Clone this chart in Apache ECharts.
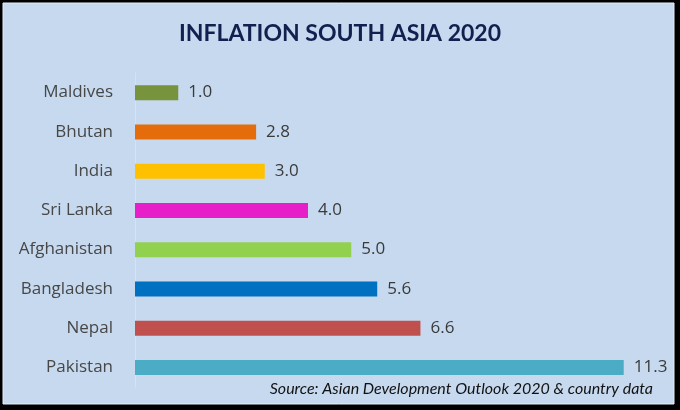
<!DOCTYPE html>
<html>
<head>
<meta charset="utf-8">
<script src="https://cdn.jsdelivr.net/npm/echarts@6/dist/echarts.min.js"></script>
<style>
html,body{margin:0;padding:0;background:#000;}
#c{position:absolute;left:0;top:0;width:680px;height:410px;}
</style>
</head>
<body>
<div id="c"></div>
<script>
const countries = ['Maldives','Bhutan','India','Sri Lanka','Afghanistan','Bangladesh','Nepal','Pakistan'];
const inflation = [1.0, 2.8, 3.0, 4.0, 5.0, 5.6, 6.6, 11.3];
const barColors = ['#77933c','#e46c0a','#ffc000','#e61fc9','#92d050','#0070c0','#c0504d','#4bacc6'];
const titleText = 'INFLATION SOUTH ASIA 2020';
const sourceText = 'Source: Asian Development Outlook 2020 & country data';

const chart = echarts.init(document.getElementById('c'), null, {renderer:'canvas'});
chart.setOption({
  backgroundColor: '#000',
  animation: false,
  graphic: [
    {type:'rect', shape:{x:3,y:3,width:671,height:401}, style:{fill:'#c6d9ef', stroke:'#e6eef8', lineWidth:1}, z:-10},
    {type:'text', left:'center', top:22, style:{text:titleText, font:'bold 23px Lato', fill:'#13204f'}},
    {type:'text', right:27, top:381, style:{text:sourceText, font:'italic 16px Lato', fill:'#111'}}
  ],
  grid: {left:135, right:26, top:73, bottom:23},
  xAxis: {type:'value', min:0, max:12, show:false},
  yAxis: {
    type:'category', data:countries, inverse:true,
    axisLine:{show:true, lineStyle:{color:'#d8e2ef', width:1}},
    axisTick:{show:false},
    axisLabel:{margin:22, color:'#474747', fontSize:17, fontFamily:'Open Sans'}
  },
  series: [{
    type:'bar',
    data: inflation.map((v,i)=>({value:v, itemStyle:{color:barColors[i]}})),
    barWidth:15,
    label:{show:true, position:'right', distance:10, color:'#3a3a3a', fontSize:17, fontFamily:'Open Sans',
      formatter: p => p.value.toFixed(1)}
  }]
});
</script>
</body>
</html>
